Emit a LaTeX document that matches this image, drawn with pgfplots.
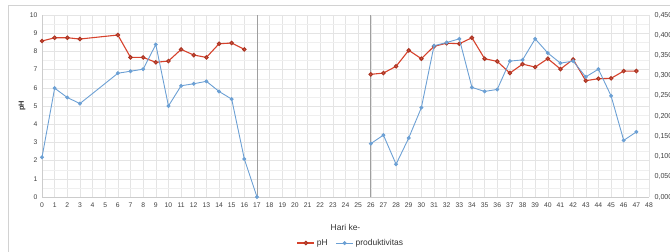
\documentclass[border=0pt]{standalone}
\usepackage{pgfplots}
\pgfplotsset{compat=1.18}
\usepackage{fontspec}
\setmainfont{Liberation Sans}
\definecolor{phred}{RGB}{214,66,44}
\definecolor{pblue}{RGB}{108,160,212}
\definecolor{gridc}{RGB}{228,228,228}

\pgfplotstableread{
day ph
0 8.57
1 8.75
2 8.75
3 8.68
6 8.90
7 7.67
8 7.67
9 7.40
10 7.47
11 8.11
12 7.80
13 7.67
14 8.42
15 8.46
16 8.11
20 nan
26 6.74
27 6.81
28 7.18
29 8.06
30 7.60
31 8.28
32 8.45
33 8.42
34 8.75
35 7.60
36 7.45
37 6.81
38 7.30
39 7.14
40 7.60
41 7.03
42 7.56
43 6.39
44 6.50
45 6.52
46 6.92
47 6.92
}\phdata

\pgfplotstableread{
day prod
0 0.098
1 0.269
2 0.246
3 0.231
6 0.306
7 0.311
8 0.316
9 0.377
10 0.225
11 0.275
12 0.280
13 0.286
14 0.261
15 0.242
16 0.094
17 0.000
20 nan
26 0.132
27 0.153
28 0.081
29 0.146
30 0.221
31 0.374
32 0.382
33 0.391
34 0.271
35 0.261
36 0.266
37 0.336
38 0.339
39 0.391
40 0.356
41 0.331
42 0.336
43 0.297
44 0.316
45 0.250
46 0.140
47 0.161
}\proddata

\begin{document}
\begin{tikzpicture}
\draw[gray!35] (8bp,-5bp) -- (8bp,247bp) -- (690bp,247bp);
\begin{axis}[
  at={(42bp,55bp)}, anchor=origin,
  scale only axis, width=607bp, height=182bp,
  xmin=0, xmax=48, ymin=0, ymax=10,
  xtick={0,1,...,48}, ytick={0,1,...,10},
  minor y tick num=1,
  grid=both,
  major grid style={gridc, line width=0.5pt},
  minor grid style={gridc!60, line width=0.4pt},
  axis line style={gray!40},
  axis x line*=bottom, axis y line*=left,
  major tick length=0pt, minor tick length=0pt,
  tick label style={font=\fontsize{6.8}{7}\selectfont, text=black!75},
  xticklabel style={yshift=-2bp},
  yticklabel style={xshift=-1bp},
  /pgf/number format/assume math mode=true,
  unbounded coords=jump,
  extra x ticks={17,26},
  extra x tick labels={},
  extra x tick style={grid=major, major grid style={gray!75, line width=0.6pt}},
  xlabel={Hari ke-},
  xlabel style={at={(axis description cs:0.5,-0.165)}, anchor=center, font=\fontsize{8.5}{9}\selectfont, text=black!80},
  ylabel={pH},
  ylabel style={at={(axis description cs:-0.033,0.5)}, anchor=center, font=\bfseries\fontsize{7.5}{8}\selectfont, text=black!80},
  legend style={at={(axis description cs:0.509,-0.253)}, anchor=center, draw=none, fill=none,
    legend columns=2, font=\fontsize{8.5}{9}\selectfont, text=black!80,
    /tikz/every even column/.append style={column sep=6bp}},
  legend image post style={sharp plot},
]
\addplot[phred, line width=1.1pt, mark=*, mark size=1.7pt, mark options={fill=phred!85, draw=phred!80!black}] table[x=day, y=ph] {\phdata};
\addlegendentry{pH}
\addlegendimage{pblue, line width=0.9pt, mark=*, mark size=1.5pt, mark options={fill=pblue}}
\addlegendentry{produktivitas}
\end{axis}
\begin{axis}[
  at={(42bp,55bp)}, anchor=origin,
  scale only axis, width=607bp, height=182bp,
  xmin=0, xmax=48, ymin=0, ymax=0.45,
  axis x line=none,
  axis y line*=right,
  axis line style={draw=none},
  ytick={0,0.05,...,0.451},
  major tick length=0pt,
  tick label style={font=\fontsize{7.2}{8}\selectfont, text=black!75},
  yticklabel style={xshift=2bp, /pgf/number format/.cd, fixed, fixed zerofill, precision=3, use comma, assume math mode=true},
  unbounded coords=jump,
]
\addplot[pblue, line width=0.9pt, mark=*, mark size=1.5pt, mark options={fill=pblue}] table[x=day, y=prod] {\proddata};
\end{axis}
\pgfresetboundingbox
\path (0bp,0bp) rectangle (670bp,252bp);
\end{tikzpicture}
\end{document}
